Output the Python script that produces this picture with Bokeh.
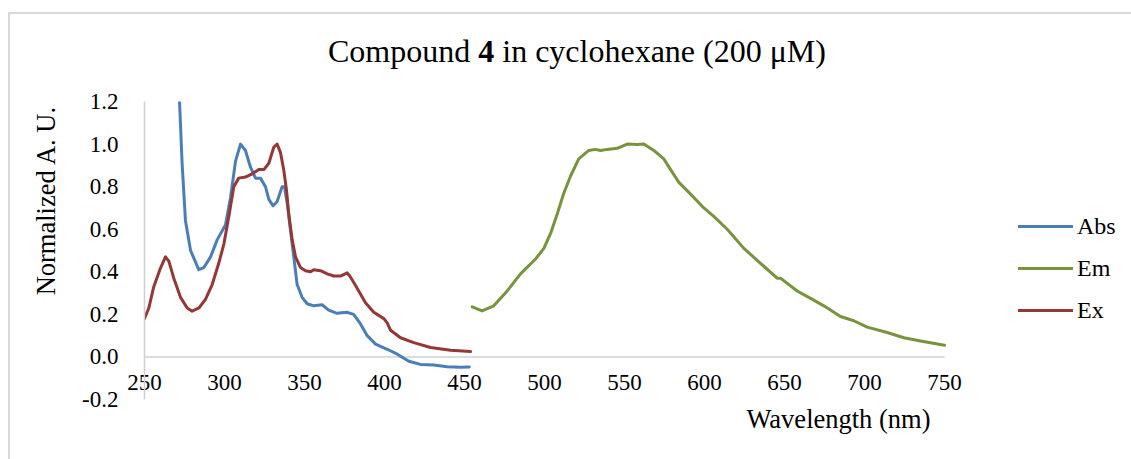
from bokeh.plotting import figure
from bokeh.models import (Range1d, FixedTicker, NumeralTickFormatter,
                          Legend, LegendItem, Div, Title)
from bokeh.layouts import column
from bokeh.embed import file_html
from bokeh.resources import INLINE

# ---- data ----
abs_wl = [271.0, 271.9, 273.5, 275.6, 278.8, 283.9, 287.1, 291.3, 295.4, 300.6,
          303.8, 306.9, 310.0, 313.1, 316.3, 319.4, 322.5, 325.6, 327.7, 330.4,
          332.9, 336.0, 337.5, 339.2, 341.3, 343.3, 345.4, 348.5, 351.7, 355.8,
          361.0, 365.1, 370.3, 376.5, 380.7, 385.0, 389.2, 394.4, 401.7, 408.0,
          415.2, 422.5, 430.8, 439.2, 447.5, 453.0]
abs_val = [1.40, 1.20, 0.91, 0.64, 0.50, 0.41, 0.42, 0.47, 0.55, 0.62,
           0.75, 0.92, 1.00, 0.97, 0.89, 0.84, 0.84, 0.80, 0.74, 0.71,
           0.73, 0.80, 0.80, 0.72, 0.59, 0.47, 0.34, 0.28, 0.25, 0.24,
           0.245, 0.22, 0.205, 0.21, 0.20, 0.155, 0.10, 0.06, 0.036, 0.013,
           -0.02, -0.035, -0.038, -0.046, -0.048, -0.047]

em_wl = [454.8, 461.0, 468.3, 476.7, 485.0, 494.4, 499.6, 503.8, 507.9, 512.1,
         516.3, 521.4, 527.7, 531.9, 535.0, 539.2, 545.4, 551.7, 557.9, 562.1,
         568.3, 574.6, 578.8, 584.0, 591.3, 599.6, 605.8, 614.2, 624.6, 635.0,
         645.4, 647.5, 657.9, 666.3, 674.6, 685.0, 693.3, 701.7, 714.2, 724.6,
         735.0, 750.0]
em_val = [0.235, 0.216, 0.24, 0.31, 0.39, 0.46, 0.51, 0.58, 0.67, 0.77,
          0.85, 0.93, 0.97, 0.975, 0.97, 0.975, 0.98, 1.00, 0.998, 1.00,
          0.97, 0.93, 0.88, 0.82, 0.765, 0.70, 0.66, 0.60, 0.51, 0.44,
          0.37, 0.37, 0.31, 0.275, 0.24, 0.19, 0.17, 0.14, 0.115, 0.09,
          0.075, 0.055]

ex_wl = [250.0, 252.7, 255.8, 259.6, 263.1, 265.2, 268.3, 272.5, 276.7, 279.8,
         284.0, 288.1, 292.3, 296.4, 299.6, 302.7, 305.8, 308.9, 313.1, 317.3,
         321.4, 324.6, 327.7, 330.8, 332.9, 335.0, 337.1, 338.8, 340.2, 342.3,
         344.4, 347.5, 350.6, 353.8, 355.8, 360.0, 364.2, 368.3, 372.5, 376.7,
         378.3, 380.8, 383.9, 388.1, 393.3, 399.6, 401.7, 403.8, 410.0, 418.3,
         428.8, 441.3, 453.8]
ex_val = [0.18, 0.23, 0.33, 0.41, 0.47, 0.45, 0.37, 0.28, 0.23, 0.215,
          0.23, 0.27, 0.34, 0.44, 0.53, 0.66, 0.80, 0.84, 0.845, 0.86,
          0.88, 0.88, 0.91, 0.985, 1.00, 0.96, 0.875, 0.78, 0.67, 0.55,
          0.47, 0.42, 0.405, 0.40, 0.41, 0.405, 0.39, 0.38, 0.38, 0.395,
          0.38, 0.35, 0.31, 0.255, 0.21, 0.18, 0.16, 0.125, 0.09, 0.067,
          0.044, 0.031, 0.025]

x_ticks = [250, 300, 350, 400, 450, 500, 550, 600, 650, 700, 750]
y_ticks = [-0.2, 0.0, 0.2, 0.4, 0.6, 0.8, 1.0, 1.2]
series_names = ["Abs", "Em", "Ex"]
series_colors = ["#4a7ebb", "#77933c", "#953735"]

FONT = "Liberation Serif"
TITLE_H = 80
PX_PER_NM = 1.6          # horizontal scale of the reference plot area
FRAME_LEFT = 144

# ---- title (with bold compound number) + chart-area border ----
title_html = ('<div style="position:absolute;left:8px;top:12px;width:1300px;height:600px;'
              'border-left:2px solid #d9d9d9;border-top:2px solid #d9d9d9;'
              'z-index:10;pointer-events:none;"></div>'
              '<div style="margin:0;padding:33px 0 0 328px;font-family:\'Liberation Serif\';'
              'font-size:32px;line-height:36px;white-space:nowrap;color:black;">'
              'Compound <b>4</b> in cyclohexane (200 μM)</div>')
title = Div(text=title_html, width=1131, height=TITLE_H, margin=0)

# plot area spans to the right edge so the legend can live inside it
x_end = x_ticks[0] + (1131 - FRAME_LEFT) / PX_PER_NM
p = figure(width=1131, height=459 - TITLE_H, output_backend="svg", toolbar_location=None,
           title=None, margin=0,
           x_range=Range1d(x_ticks[0], x_end), y_range=Range1d(-0.2, 1.2),
           min_border_left=FRAME_LEFT, min_border_right=0,
           min_border_top=101 - TITLE_H, min_border_bottom=60)
p.background_fill_color = "white"
p.border_fill_color = "white"
p.outline_line_color = None
p.xgrid.visible = False
p.ygrid.visible = False

# horizontal axis line at y = 0 (from first to last tick)
p.segment(x0=[x_ticks[0]], y0=[0], x1=[x_ticks[-1]], y1=[0],
          line_color="#d0d0d0", line_width=1.5)

# y axis
p.yaxis.ticker = FixedTicker(ticks=y_ticks)
p.yaxis.formatter = NumeralTickFormatter(format="0.0")
p.yaxis.axis_line_color = "#d0d0d0"
p.yaxis.axis_line_width = 1.5
p.yaxis.major_tick_in = 0
p.yaxis.major_tick_out = 0
p.yaxis.minor_tick_in = 0
p.yaxis.minor_tick_out = 0
p.yaxis.major_label_standoff = 26
p.yaxis.major_label_text_font = FONT
p.yaxis.major_label_text_font_size = "23px"
p.yaxis.major_label_text_color = "black"

# x axis (labels drawn just under the zero line)
p.xaxis.ticker = FixedTicker(ticks=x_ticks)
p.xaxis.axis_line_color = None
p.xaxis.major_tick_in = 0
p.xaxis.major_tick_out = 0
p.xaxis.minor_tick_in = 0
p.xaxis.minor_tick_out = 0
p.xaxis.major_label_standoff = -25
p.xaxis.major_label_text_font = FONT
p.xaxis.major_label_text_font_size = "23px"
p.xaxis.major_label_text_color = "black"

# axis titles as side-panel titles
p.add_layout(Title(text="Normalized A. U.", align="right", offset=4, standoff=37,
                   text_font=FONT, text_font_size="26.5px", text_font_style="normal",
                   text_color="black"), "left")
p.add_layout(Title(text="Wavelength (nm)", align="right", offset=201, standoff=5,
                   text_font=FONT, text_font_size="26.5px", text_font_style="normal",
                   text_color="black"), "below")

data = [(abs_wl, abs_val), (em_wl, em_val), (ex_wl, ex_val)]
renderers = []
for (xs, ys), c in zip(data, series_colors):
    r = p.line(xs, ys, line_color=c, line_width=3, line_join="round", line_cap="round")
    renderers.append(r)

legend = Legend(items=[LegendItem(label=n, renderers=[r]) for n, r in zip(series_names, renderers)],
                location=(874, 74), orientation="vertical",
                glyph_width=55, glyph_height=30, label_height=30, spacing=12,
                padding=0, margin=0, label_standoff=4,
                border_line_color=None, background_fill_alpha=0,
                label_text_font=FONT, label_text_font_size="24px", label_text_color="black")
p.add_layout(legend)

layout = column(title, p, margin=0, spacing=0)
open("out.html", "w").write(file_html(layout, INLINE))
